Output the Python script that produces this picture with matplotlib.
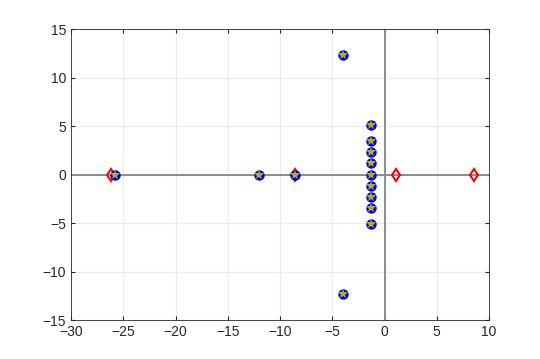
import numpy as np
import matplotlib
matplotlib.use("Agg")
import matplotlib.pyplot as plt

plt.rcParams['font.family'] = ['Liberation Sans', 'DejaVu Sans']

# poles (blue circle + star) and zeros (red diamond)
pole_re = [-25.8, -12.0, -8.6, -3.95, -3.95,
           -1.25, -1.25, -1.25, -1.25, -1.25, -1.25, -1.25, -1.25, -1.25]
pole_im = [0.0, 0.0, 0.0, 12.3, -12.3,
           5.1, 3.45, 2.3, 1.2, 0.0, -1.2, -2.3, -3.45, -5.1]
zero_re = [-26.2, -8.6, 1.1, 8.6]
zero_im = [0.0, 0.0, 0.0, 0.0]

fig = plt.figure(figsize=(5.4, 3.59), dpi=100)
ax = fig.add_axes([0.1315, 0.1086, 0.7741, 0.8104])

ax.axhline(0, color='#8c8c8c', lw=1.4, zorder=1)
ax.axvline(0, color='#8c8c8c', lw=1.4, zorder=1)

ax.plot(zero_re, zero_im, 'd', color='red', mfc='none', mew=1.5, ms=6.5, zorder=3)
ax.plot(pole_re, pole_im, 'o', color='blue', ms=7.5, mew=0, zorder=4)
ax.plot(pole_re, pole_im, '*', color='#b5b500', ms=7.5, mew=0, zorder=5)

ax.set_xlim(-30, 10)
ax.set_ylim(-15, 15)
ax.set_xticks(np.arange(-30, 11, 5))
ax.set_yticks(np.arange(-15, 16, 5))
ax.grid(True, color='#ebebeb', lw=0.8)
ax.set_axisbelow(True)
ax.tick_params(direction='in', length=3, labelsize=10, colors='#262626',
               top=True, right=True)
for s in ax.spines.values():
    s.set_color('#262626')
    s.set_linewidth(0.6)

fig.savefig('out.png', dpi=100)
